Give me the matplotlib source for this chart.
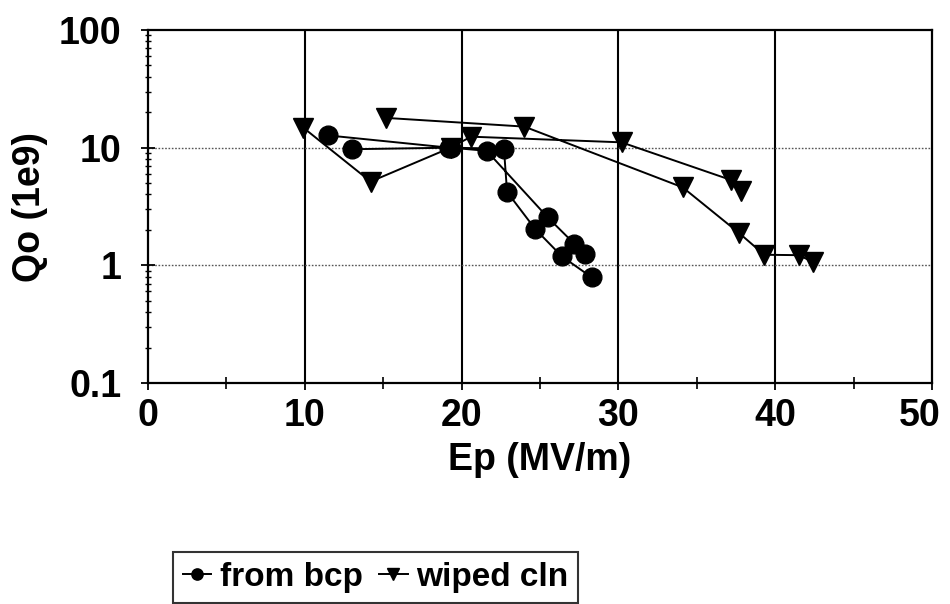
import numpy as np
import matplotlib
matplotlib.use("Agg")
import matplotlib.pyplot as plt
from matplotlib.ticker import LogLocator, FixedLocator, NullFormatter
from matplotlib.transforms import ScaledTranslation

plt.rcParams['font.family'] = ['Liberation Sans', 'DejaVu Sans']

# Data (NaN separates measurement runs within a series)
bcp_ep = [11.5, 19.2, 22.7, 22.9, 24.7, 26.4, 28.3, np.nan,
          13.0, 19.3, 21.6, 25.5, 27.2, 27.9]
bcp_q = [12.7, 10.0, 9.8, 4.2, 2.03, 1.19, 0.79, np.nan,
         9.7, 10.0, 9.4, 2.55, 1.52, 1.25]

wiped_ep = [9.9, 14.2, 19.3, 20.6, 30.2, 37.2, 37.8, np.nan,
            15.2, 24.0, 34.1, 37.7, 39.3, 41.5, 42.4]
wiped_q = [14.8, 5.15, 10.0, 12.4, 11.1, 5.3, 4.25, np.nan,
           17.9, 15.1, 4.6, 1.88, 1.23, 1.22, 1.07]

x_ticks = [0, 10, 20, 30, 40, 50]
y_ticks = [0.1, 1, 10, 100]
y_tick_labels = ['0.1', '1', '10', '100']

FS = 27

fig = plt.figure(figsize=(9.5, 6.04), dpi=100)
ax = fig.add_axes([148/950, 1-383/604, 784/950, 353/604])

ax.set_yscale('log')
ax.set_xlim(0, 50)
ax.set_ylim(0.1, 100)

# grid
for xv in [10, 20, 30, 40]:
    ax.axvline(xv, color='black', lw=1.5, zorder=1)
for yv in [1, 10]:
    ax.axhline(yv, color='#555555', lw=1.0, ls=(0, (1.2, 1.2)), zorder=1)

ax.plot(bcp_ep, bcp_q, color='black', lw=1.4, marker='o', ms=13.5,
        mfc='black', mec='black', zorder=3, label='from bcp')
ax.plot(wiped_ep, wiped_q, color='black', lw=1.4, marker='v', ms=14.5,
        mfc='black', mec='black', zorder=3, label='wiped cln')

for s in ax.spines.values():
    s.set_linewidth(1.6)
    s.set_color('black')

ax.xaxis.set_major_locator(FixedLocator(x_ticks))
ax.xaxis.set_minor_locator(FixedLocator([5, 15, 25, 35, 45]))
ax.yaxis.set_major_locator(FixedLocator(y_ticks))
ax.yaxis.set_minor_locator(LogLocator(base=10, subs=np.arange(2, 10)))
ax.yaxis.set_minor_formatter(NullFormatter())
ax.set_yticklabels(y_tick_labels)
ax.set_xticklabels([str(t) for t in x_ticks])

ax.tick_params(axis='both', which='major', direction='inout', length=10,
               width=1.3, labelsize=FS)
ax.tick_params(axis='x', which='major', pad=6)
ax.tick_params(axis='y', which='major', pad=14)
ax.tick_params(axis='x', which='minor', direction='inout', length=8, width=1.2)
ax.tick_params(axis='y', which='minor', direction='inout', length=4, width=1.0)
for lab in ax.get_xticklabels() + ax.get_yticklabels():
    lab.set_fontweight('bold')

# last x tick label nudged inside the figure, as in the reference
last = ax.get_xticklabels()[-1]
last.set_transform(last.get_transform() + ScaledTranslation(-0.12, 0, fig.dpi_scale_trans))

ax.set_xlabel('Ep (MV/m)', fontsize=FS, fontweight='bold')
ax.xaxis.set_label_coords(0.5, -0.218)
ax.xaxis.label.set_va('center')
ax.set_ylabel('Qo (1e9)', fontsize=FS, fontweight='bold')
ax.yaxis.set_label_coords(-0.1505, 0.5)
ax.yaxis.label.set_va('center')

leg = fig.legend(handles=ax.get_lines()[-2:], loc='upper left',
                 bbox_to_anchor=(173/950, 1-552/604), ncol=2,
                 prop={'weight': 'bold', 'size': 24},
                 frameon=True, fancybox=False, markerscale=0.6,
                 handlelength=0.85, handletextpad=0.25, columnspacing=0.5,
                 borderpad=0.3, borderaxespad=0)
leg.get_frame().set_edgecolor('black')
leg.get_frame().set_linewidth(1.5)

fig.savefig('out.png', dpi=100)
